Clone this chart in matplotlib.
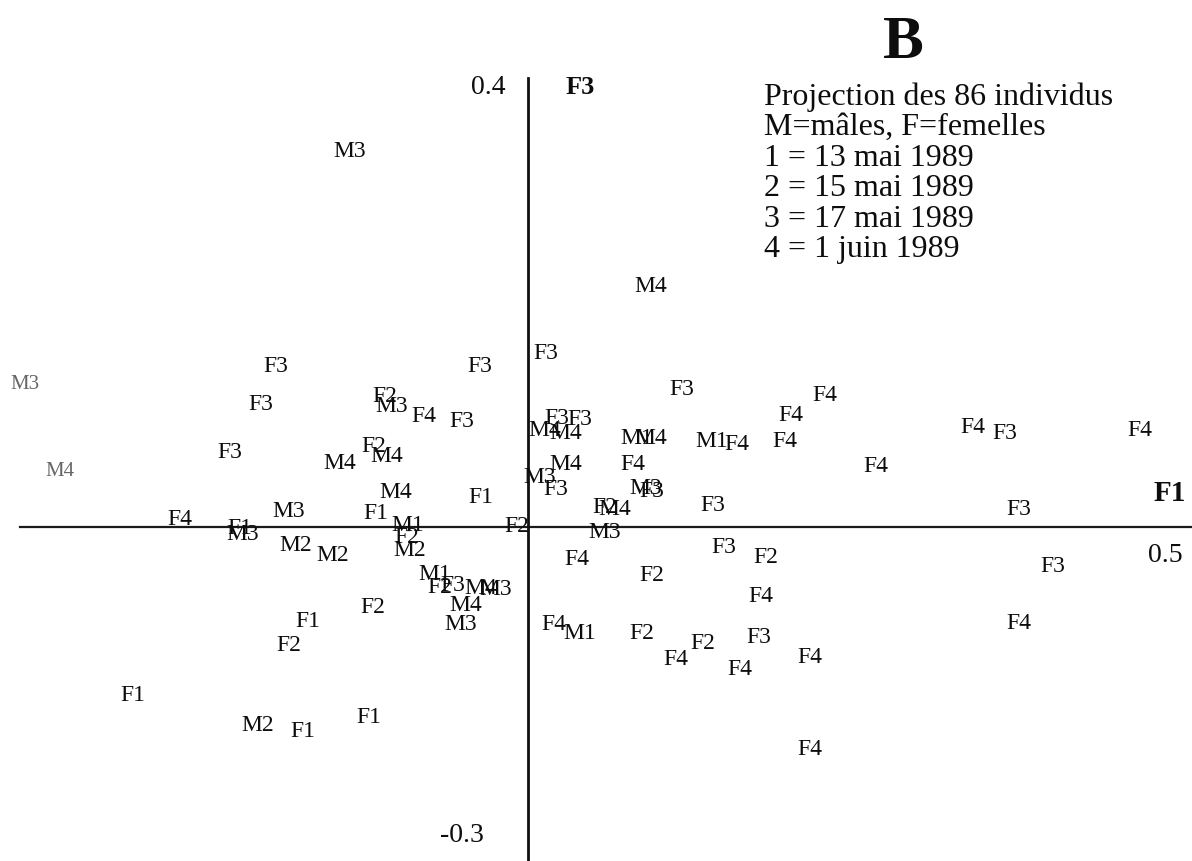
#!/usr/bin/env python3
"""
Projection des 86 individus sur le plan F1 x F3 (figure B)
"""
import matplotlib
matplotlib.use('Agg')
import matplotlib.pyplot as plt

# ============== données ==============
# étiquettes (sexe + date) et coordonnées
labels = [
    'M3', 'M4',
    'M3', 'M4', 'F3', 'F3', 'F3', 'F4', 'F1', 'M3', 'M3', 'M2', 'M2',
    'F3', 'F2', 'M3', 'F4', 'F3', 'F2', 'M4', 'M4', 'M4', 'F1', 'F1',
    'M1', 'F2', 'M2', 'F2', 'M1', 'F2', 'F3', 'M4', 'M3', 'M4', 'M3',
    'F2', 'F1', 'F2', 'F1', 'M2', 'F1', 'F1',
    'F3', 'F3', 'F3', 'M4', 'M4', 'M4', 'M3', 'F3', 'M1', 'M4', 'F4',
    'M3', 'F3', 'F2', 'M4', 'M3', 'F3', 'M1', 'F4', 'F3', 'F4', 'F4',
    'F4', 'F4', 'F4', 'F3', 'F4', 'F3',
    'F4', 'F2', 'F3', 'F2', 'F4', 'F4', 'M1', 'F2', 'F2', 'F4', 'F3',
    'F4', 'F4', 'F4', 'F3', 'F4',
]
f1 = [
    -0.140, 0.096,
    -0.395, -0.367, -0.198, -0.210, -0.234, -0.273, -0.226, -0.224, -0.188, -0.182, -0.153,
    -0.038, -0.112, -0.107, -0.082, -0.052, -0.121, -0.111, -0.148, -0.104, -0.037, -0.119,
    -0.094, -0.095, -0.093, -0.009, -0.073, -0.069, -0.059, -0.037, -0.025, -0.049, -0.053,
    -0.122, -0.173, -0.188, -0.310, -0.212, -0.177, -0.125,
    0.014, 0.023, 0.041, 0.013, 0.030, 0.030, 0.009, 0.022, 0.085, 0.096, 0.082,
    0.092, 0.097, 0.060, 0.068, 0.060, 0.121, 0.144, 0.164, 0.145, 0.206, 0.233,
    0.202, 0.273, 0.349, 0.374, 0.480, 0.385,
    0.038, 0.097, 0.154, 0.187, 0.183, 0.020, 0.041, 0.089, 0.137, 0.116, 0.181,
    0.166, 0.221, 0.221, 0.412, 0.385,
]
f3 = [
    0.342, 0.219,
    0.130, 0.051, 0.146, 0.112, 0.068, 0.007, -0.001, -0.007, 0.014, -0.017, -0.026,
    0.146, 0.119, 0.110, 0.101, 0.096, 0.073, 0.064, 0.058, 0.031, 0.027, 0.012,
    0.001, -0.010, -0.021, 0.000, -0.043, -0.055, -0.053, -0.056, -0.057, -0.072, -0.089,
    -0.073, -0.086, -0.108, -0.154, -0.181, -0.186, -0.174,
    0.158, 0.099, 0.098, 0.088, 0.085, 0.057, 0.045, 0.034, 0.081, 0.081, 0.057,
    0.035, 0.032, 0.018, 0.016, -0.005, 0.125, 0.078, 0.075, 0.020, 0.102, 0.120,
    0.078, 0.055, 0.091, 0.085, 0.088, 0.016,
    -0.030, -0.044, -0.019, -0.028, -0.063, -0.089, -0.097, -0.097, -0.106, -0.121, -0.101,
    -0.130, -0.119, -0.203, -0.036, -0.088,
]
# les deux points de gauche sont imprimés plus pâles
faded = [2, 3]

legend_lines = [
    'Projection des 86 individus',
    'M=mâles, F=femelles',
    '1 = 13 mai 1989',
    '2 = 15 mai 1989',
    '3 = 17 mai 1989',
    '4 = 1 juin 1989',
]

# ============== figure ==============
W, H = 1192, 861
fig = plt.figure(figsize=(W / 100, H / 100), dpi=100)
ax = fig.add_axes([0, 0, 1, 1])
ax.set_xlim(-0.4144, 0.5212)
ax.set_ylim(-0.3045, 0.4804)
ax.axis('off')

serif = 'Liberation Serif'

# axes F1 et F3
ax.plot([-0.399, 0.5212], [0, 0], color='#1a1a1a', linewidth=1.6)
ax.plot([0, 0], [0.409, -0.3045], color='#111111', linewidth=2.0)

# individus
for i, (lab, x, y) in enumerate(zip(labels, f1, f3)):
    if i in faded:
        ax.text(x, y, lab, ha='center', va='center', family=serif,
                fontsize=15, color='#666666')
    else:
        ax.text(x, y, lab, ha='center', va='center', family=serif,
                fontsize=17, color='#0d0d0d')

# graduations et noms d'axes (positions en pixels de la figure)
def ftext(px, py, s, **kw):
    fig.text(px / W, 1 - py / H, s, family=serif, color='#0d0d0d', **kw)

ftext(488, 88, '0.4', fontsize=20, ha='center', va='center')
ftext(462, 835, '-0.3', fontsize=20, ha='center', va='center')
ftext(1165, 556, '0.5', fontsize=20, ha='center', va='center')
ftext(580, 87, 'F3', fontsize=19, fontweight='bold', ha='center', va='center')
ftext(1170, 494, 'F1', fontsize=21, fontweight='bold', ha='center', va='center')
ftext(903, 43, 'B', fontsize=44, fontweight='bold', ha='center', va='center')

# légende
for k, line in enumerate(legend_lines):
    ftext(764, 97 + k * 30.6, line, fontsize=23, ha='left', va='center')

plt.savefig('out.png', dpi=100)
plt.close()
